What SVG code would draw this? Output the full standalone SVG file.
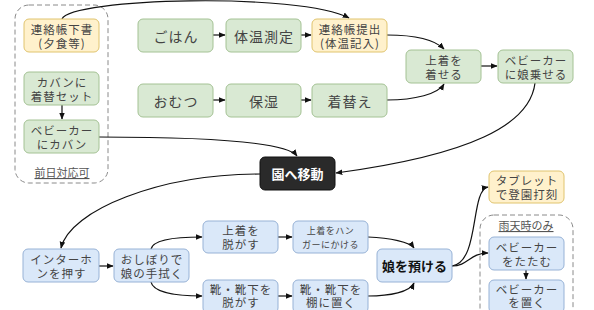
<svg xmlns="http://www.w3.org/2000/svg" width="594" height="310" viewBox="0 0 594 310">
<defs>
<marker id="ah" viewBox="0 0 10 10" refX="9" refY="5" markerWidth="7" markerHeight="7" markerUnits="userSpaceOnUse" orient="auto">
<path d="M0,1 L10,5 L0,9 Z" fill="#111"/>
</marker>
<style>
text{font-family:"Noto Sans CJK JP","Noto Sans",sans-serif;fill:#444;text-anchor:middle;dominant-baseline:central}
.g{fill:#d9e9d3;stroke:#a4c294;stroke-width:1}
.o{fill:#fff1cc;stroke:#e0c46e;stroke-width:1}
.b{fill:#dae8f9;stroke:#97b2d6;stroke-width:1}
.k{fill:#2a2a2a;stroke:#111;stroke-width:1}
.grp{fill:none;stroke:#8a8a8a;stroke-width:1;stroke-dasharray:5,3}
.t14{font-size:14px;letter-spacing:1px}
.t12{font-size:11.5px;letter-spacing:1px}
.t10{font-size:9px;letter-spacing:0.5px}
.bold{font-weight:bold;font-size:13px}
.lab{font-size:11px;text-decoration:underline;fill:#555}
.c path{fill:none;stroke:#111;stroke-width:1.2;marker-end:url(#ah)}
</style>
</defs>

<g id="group-prev">
<rect class="grp" x="15" y="5" width="93" height="178" rx="14"/>
<text class="lab" x="62" y="172">前日対応可</text>
</g>
<g id="group-rain">
<rect class="grp" x="480" y="215" width="93" height="110" rx="14"/>
<text class="lab" x="526" y="225">雨天時のみ</text>
</g>

<g class="c" id="connectors">
<path d="M62,19 C70,-2 300,-8 349,18"/>
<path d="M213,35 L225,35"/>
<path d="M301,35 L311,35"/>
<path d="M213,100 L225,100"/>
<path d="M301,100 L311,100"/>
<path d="M387,35 C415,35 435,40 444,49"/>
<path d="M387,100 C415,100 438,94 444,84"/>
<path d="M481,66 L497,66"/>
<path d="M62,105 L62,119"/>
<path d="M535,83 C530,125 470,155 336,173"/>
<path d="M99,137 C180,137 285,140 297,156"/>
<path d="M260,174 C160,174 70,210 61,248"/>
<path d="M99,266 L113,266"/>
<path d="M151,249 C153,240 175,237 202,237"/>
<path d="M151,282 C153,292 175,296 202,296"/>
<path d="M278,237 L292,237"/>
<path d="M278,296 L292,296"/>
<path d="M368,237 C390,238 410,242 414,248"/>
<path d="M368,296 C390,296 410,292 414,283"/>
<path d="M452,266 C480,262 470,190 488,187"/>
<path d="M452,266 C468,266 470,253 488,253"/>
<path d="M526,270 L526,279"/>
</g>

<g id="n-renraku-shita"><rect class="o" x="24" y="19" width="75" height="33" rx="5"/><text class="t12" x="62" y="28.5">連絡帳下書<tspan x="62" dy="14">(夕食等)</tspan></text></g>
<g id="n-kaban-kigae"><rect class="g" x="24" y="72" width="75" height="33" rx="5"/><text class="t12" x="62" y="81.5">カバンに<tspan x="62" dy="14">着替セット</tspan></text></g>
<g id="n-baby-kaban"><rect class="g" x="24" y="120" width="75" height="33" rx="5"/><text class="t12" x="62" y="129.5">ベビーカー<tspan x="62" dy="14">にカバン</tspan></text></g>

<g id="n-gohan"><rect class="g" x="138" y="19" width="75" height="33" rx="5"/><text class="t14" x="176" y="35.5">ごはん</text></g>
<g id="n-taion"><rect class="g" x="226" y="19" width="75" height="33" rx="5"/><text class="t14" x="264" y="35.5">体温測定</text></g>
<g id="n-renraku-teishutsu"><rect class="o" x="312" y="19" width="75" height="33" rx="5"/><text class="t12" x="350" y="28.5">連絡帳提出<tspan x="350" dy="14">(体温記入)</tspan></text></g>
<g id="n-omutsu"><rect class="g" x="138" y="84" width="75" height="33" rx="5"/><text class="t14" x="176" y="100.5">おむつ</text></g>
<g id="n-hoshitsu"><rect class="g" x="226" y="84" width="75" height="33" rx="5"/><text class="t14" x="264" y="100.5">保湿</text></g>
<g id="n-kigae"><rect class="g" x="312" y="84" width="75" height="33" rx="5"/><text class="t14" x="350" y="100.5">着替え</text></g>
<g id="n-uwagi-kiseru"><rect class="g" x="406" y="50" width="75" height="33" rx="5"/><text class="t12" x="444" y="59.5">上着を<tspan x="444" dy="14">着せる</tspan></text></g>
<g id="n-baby-noseru"><rect class="g" x="498" y="50" width="75" height="33" rx="5"/><text class="t12" x="536" y="59.5">ベビーカー<tspan x="536" dy="14">に娘乗せる</tspan></text></g>

<g id="n-en-idou"><rect class="k" x="260" y="157" width="75" height="33" rx="5"/><text class="bold" x="297.5" y="173.5" style="fill:#fff">園へ移動</text></g>

<g id="n-interphone"><rect class="b" x="23" y="249" width="76" height="33" rx="5"/><text class="t12" x="61.5" y="258.5">インターホ<tspan x="61.5" dy="14">ンを押す</tspan></text></g>
<g id="n-oshibori"><rect class="b" x="114" y="249" width="75" height="33" rx="5"/><text class="t12" x="152" y="258.5">おしぼりで<tspan x="152" dy="14">娘の手拭く</tspan></text></g>
<g id="n-uwagi-nugasu"><rect class="b" x="203" y="221" width="75" height="32" rx="5"/><text class="t12" x="241" y="230">上着を<tspan x="241" dy="14">脱がす</tspan></text></g>
<g id="n-kutsu-nugasu"><rect class="b" x="203" y="280" width="75" height="33" rx="5"/><text class="t12" x="241" y="288.5">靴・靴下を<tspan x="241" dy="13.5">脱がす</tspan></text></g>
<g id="n-hanger"><rect class="b" x="293" y="221" width="75" height="32" rx="5"/><text class="t10" x="330.5" y="230.5">上着をハン<tspan x="330.5" dy="13">ガーにかける</tspan></text></g>
<g id="n-kutsu-tana"><rect class="b" x="293" y="280" width="75" height="33" rx="5"/><text class="t12" x="331" y="288.5">靴・靴下を<tspan x="331" dy="13.5">棚に置く</tspan></text></g>
<g id="n-azukeru"><rect class="b" x="377" y="249" width="75" height="33" rx="5"/><text class="bold" x="414.5" y="265.5" style="fill:#111">娘を預ける</text></g>
<g id="n-tablet"><rect class="o" x="489" y="171" width="75" height="32" rx="5"/><text class="t12" x="527" y="180">タブレット<tspan x="527" dy="14">で登園打刻</tspan></text></g>
<g id="n-tatamu"><rect class="b" x="489" y="237" width="75" height="33" rx="5"/><text class="t12" x="527" y="246.5">ベビーカー<tspan x="527" dy="14">をたたむ</tspan></text></g>
<g id="n-oku"><rect class="b" x="489" y="280" width="75" height="33" rx="5"/><text class="t12" x="527" y="288.5">ベビーカー<tspan x="527" dy="13.5">を置く</tspan></text></g>
</svg>
